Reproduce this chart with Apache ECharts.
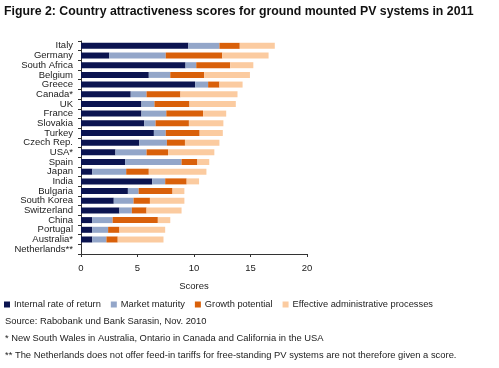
<!DOCTYPE html>
<html><head><meta charset="utf-8">
<script src="https://cdn.jsdelivr.net/npm/echarts@6/dist/echarts.min.js"></script>
<style>html,body{margin:0;padding:0;background:#fff}#c{width:499px;height:368px}</style>
</head><body><div id="c"></div>
<script>
const categories = ["Italy","Germany","South Africa","Belgium","Greece","Canada*","UK","France","Slovakia","Turkey","Czech Rep.","USA*","Spain","Japan","India","Bulgaria","South Korea","Switzerland","China","Portugal","Australia*","Netherlands**"];
const internalRate = [9.5,2.5,9.25,6.0,10.1,4.4,5.35,5.35,5.6,6.45,5.15,3.05,3.9,1.0,6.3,4.15,2.9,3.4,1.0,1.0,1.0,0];
const marketMaturity = [2.75,5.0,0.95,1.9,1.15,1.4,1.15,2.2,1.0,1.05,2.45,2.75,5.0,3.0,1.15,0.95,1.75,1.1,1.8,1.4,1.25,0];
const growthPotential = [1.8,5.0,3.0,3.0,1.0,3.0,3.1,3.25,2.95,3.0,1.6,1.9,1.4,2.0,1.9,3.0,1.45,1.3,4.0,1.0,1.0,0];
const adminProcesses = [3.1,4.1,2.05,4.05,2.05,5.05,4.1,2.05,3.05,2.05,3.05,4.1,1.05,5.1,1.1,1.05,3.05,3.1,1.1,4.05,4.05,0];
const seriesNames = ["Internal rate of return","Market maturity","Growth potential","Effective administrative processes"];
const xTicks = [0,5,10,15,20];

const FONT = "Liberation Sans";
const colors = ["#0b1450","#93a6c9","#d9600a","#fbcba0"];
const dataSets = [internalRate, marketMaturity, growthPotential, adminProcesses];

const chart = echarts.init(document.getElementById('c'), null, {renderer:'canvas'});
chart.setOption({
  animation:false,
  textStyle:{fontFamily:FONT},
  color:colors,
  title:{text:"Figure 2: Country attractiveness scores for ground mounted PV systems in 2011",
    left:4, top:6, padding:0, textStyle:{fontFamily:FONT, fontWeight:'bold', fontSize:12.3, color:'#111'}},
  legend:{left:4, top:300, padding:0, itemWidth:6, itemHeight:6, itemGap:10, icon:'rect',
    textStyle:{fontSize:9.3, color:'#222', padding:[0,0,0,-1]}, data:seriesNames},
  grid:{left:81, right:192, top:41, bottom:114, containLabel:false},
  xAxis:{type:'value', min:0, max:20, interval:5, name:'Scores', nameLocation:'middle', nameGap:27,
    nameTextStyle:{fontSize:9.5, color:'#222'},
    axisLine:{show:true, lineStyle:{color:'#333', width:1}},
    axisTick:{show:true, length:3, lineStyle:{color:'#333'}},
    axisLabel:{fontSize:9.5, color:'#222', margin:9},
    splitLine:{show:false}},
  yAxis:{type:'category', inverse:true, data:categories,
    axisLine:{show:true, lineStyle:{color:'#333'}},
    axisTick:{show:true, length:3, lineStyle:{color:'#333'}},
    axisLabel:{fontSize:9.5, color:'#222', margin:8, interval:0}},
  series: dataSets.map((d,i)=>({name:seriesNames[i], type:'bar', stack:'s', data:d, barWidth:6,
     itemStyle:{color:colors[i]}})),
  graphic:[
    {type:'text', left:5, top:317, style:{text:"Source: Rabobank und Bank Sarasin, Nov. 2010", fontFamily:FONT, fontSize:9.4, fill:'#222'}},
    {type:'text', left:5, top:334, style:{text:"* New South Wales in Australia, Ontario in Canada and California in the USA", fontFamily:FONT, fontSize:9.4, fill:'#222'}},
    {type:'text', left:5, top:351, style:{text:"** The Netherlands does not offer feed-in tariffs for free-standing PV systems are not therefore given a score.", fontFamily:FONT, fontSize:9.4, fill:'#222'}}
  ]
});
</script></body></html>
